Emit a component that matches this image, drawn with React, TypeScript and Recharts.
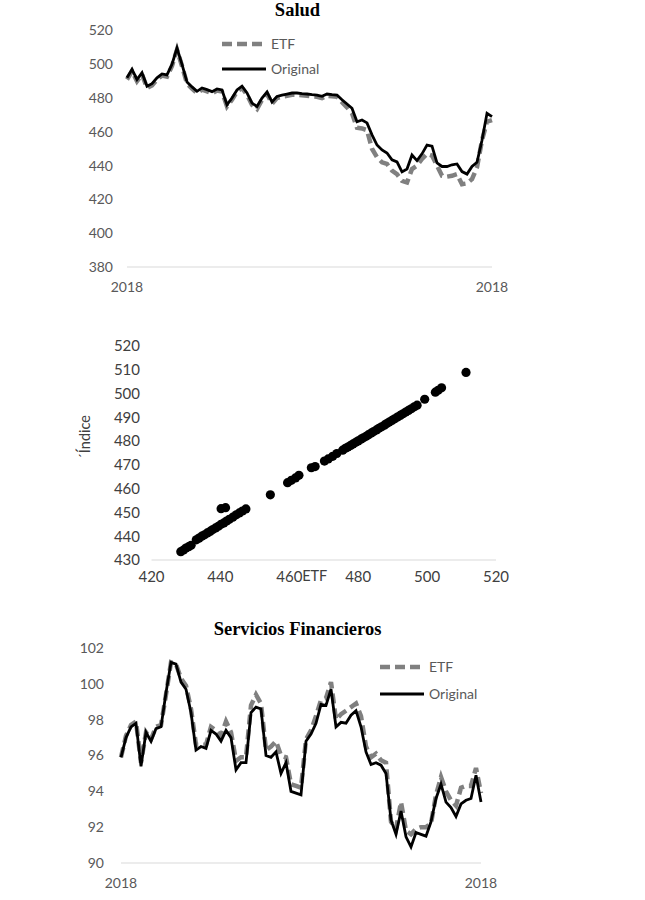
import React from "react";
import { LineChart, Line, XAxis, YAxis, ScatterChart, Scatter, Legend } from "recharts";

const yearLabel = "2018";
const seriesNames = ["ETF", "Original"];

const saludOriginal = [
  492, 497, 491, 495, 487, 488.5, 492, 494.3, 493.7, 500, 509.6, 500, 489.5, 486.6, 484, 486, 485, 483.8, 485.4, 484.8,
  476, 480, 484.8, 487, 483, 477, 475, 480, 483.6, 477.7, 481, 481.8, 482.4, 483, 483, 482.6, 482.4, 482, 481.8, 481,
  482.4, 482, 481.8, 479, 476.5, 474, 466, 467, 465.3, 458.2, 452.2, 449.3, 447.5, 443.4, 442.2, 436.3, 438, 446.3, 443, 447,
  452.2, 451.5, 441.6, 439.5, 439.5, 440.5, 441, 436.5, 435, 439.5, 442, 455, 471, 469,
];
const saludEtf = [
  491, 496, 490, 494, 486, 487.5, 491, 493.3, 492.7, 499, 508.6, 499, 488.5, 485.6, 483, 485, 484, 482.8, 484.4, 483.8,
  475, 479, 483.8, 486, 482, 476, 473.5, 479, 482.6, 476.7, 480, 480.8, 481.4, 482, 482, 481.6, 481.4, 481, 480.8, 480,
  481.4, 481, 480.8, 477.5, 474.5, 471, 462.5, 462, 461, 450, 445, 442, 441, 437, 435, 431, 430, 438, 440, 444,
  447, 446, 440, 434, 433.5, 434, 435, 429, 429.5, 432, 439, 455, 466, 467,
];
const saludTicks = [380, 400, 420, 440, 460, 480, 500, 520];

const scatterEtf = [
  428.5, 429.3, 430, 430.8, 431.5, 433, 433.8, 434.6, 435.4, 436.2, 437, 437.8, 438.6, 439.4, 440.2, 441, 441.8, 442.6,
  443.6, 444.6, 445.5, 446.4, 447.4, 440.2, 441.5, 454.5, 459.5, 460.6, 461.8, 462.8, 466.4, 467.5, 470.2, 471.3, 472.6,
  473.8, 475.5, 476.3, 477, 477.8, 478.5, 479.3, 480, 480.8, 481.5, 482.3, 483, 483.8, 484.5, 485.3, 486, 486.8, 487.6,
  488.3, 489, 489.8, 490.6, 491.4, 492.2, 493, 493.8, 494.6, 495.4, 496.3, 497.1, 499.3, 502.4, 503.2, 504.2, 511.3,
];
const scatterIndice = [
  433.5, 434.2, 435, 435.6, 436.2, 438.5, 439.2, 440, 440.6, 441.4, 442, 442.8, 443.5, 444.2, 445, 445.6, 446.4, 447.1,
  448, 449, 449.8, 450.6, 451.5, 451.6, 452, 457.4, 462.5, 463.5, 464.5, 465.6, 468.8, 469.3, 471.6, 472.5, 473.6,
  474.8, 476.2, 477, 477.5, 478.2, 478.8, 479.5, 480.1, 480.8, 481.4, 482, 482.7, 483.4, 484, 484.7, 485.4, 486, 486.7,
  487.4, 488, 488.7, 489.4, 490.1, 490.8, 491.5, 492.2, 492.9, 493.6, 494.4, 495.1, 497.6, 500.6, 501.4, 502.4, 508.9,
];
const scatterXTicks = [420, 440, 460, 480, 500, 520];
const scatterYTicks = [430, 440, 450, 460, 470, 480, 490, 500, 510, 520];

const finOriginal = [
  95.9, 97.0, 97.6, 97.8, 95.4, 97.3, 96.8, 97.5, 97.6, 99.5, 101.2, 101.1, 100.1, 99.7, 98.4, 96.3, 96.5, 96.4, 97.4, 97.2,
  96.8, 97.4, 97.0, 95.2, 95.6, 95.6, 98.4, 98.7, 98.6, 96.0, 95.9, 96.2, 95.0, 95.6, 94.0, 93.9, 93.8, 96.8, 97.2, 97.8,
  98.85, 98.8, 99.7, 97.6, 97.85, 97.8, 98.25, 98.5, 97.6, 96.2, 95.5, 95.6, 95.46, 95.0, 92.4, 91.6, 92.9, 91.46, 90.9, 91.7,
  91.6, 91.5, 92.3, 93.6, 94.4, 93.4, 93.1, 92.6, 93.3, 93.5, 93.6, 94.9, 93.4,
];
const finEtf = [
  95.9, 97.1, 97.7, 97.9, 95.6, 97.3, 96.9, 97.6, 97.7, 99.4, 101.2, 101.1, 100.3, 99.9, 98.6, 96.6, 96.6, 96.6, 97.6, 97.4,
  97.1, 97.9, 97.3, 95.7, 95.9, 95.9, 98.8, 99.4, 98.9, 96.3, 96.5, 96.8, 96.0, 95.9, 94.4, 94.3, 94.2, 96.9, 97.4, 98.2,
  99.1, 99.2, 100.1, 98.0, 98.3, 98.5, 98.7, 98.9, 98.2, 96.5, 95.9, 96.1, 95.74, 95.6, 92.3, 91.9, 93.4, 91.8, 91.6, 91.9,
  92.0, 92.0, 92.2, 93.8, 94.8, 94.0, 93.5, 93.2, 94.2, 94.3, 94.3, 95.3, 93.9,
];
const finTicks = [90, 92, 94, 96, 98, 100, 102];

const FONT = "Lato, 'Noto Sans', sans-serif";
const GRID = "#d9d9d9";
const ETF_COLOR = "#808080";
const ORIG_COLOR = "#000000";

const saludData = saludOriginal.map((v, i) => ({ i, original: v, etf: saludEtf[i] }));
const finData = finOriginal.map((v, i) => ({ i, original: v, etf: finEtf[i] }));
const scatterData = scatterEtf.map((x, i) => ({ x, y: scatterIndice[i] }));

const renderLegend = (gap: number) => (props: any) => {
  const payload = (props.payload || []) as any[];
  return (
    <svg width={120} height={gap + 26} style={{ overflow: "visible" }}>
      {payload.map((p, k) => {
        const y = 12 + k * gap;
        const dashed = p.dataKey === "etf";
        return (
          <g key={k}>
            <line
              x1={2}
              x2={dashed ? 44 : 46}
              y1={y}
              y2={y}
              stroke={p.color}
              strokeWidth={dashed ? 4.5 : 3}
              strokeDasharray={dashed ? "10 5" : undefined}
            />
            <text x={51} y={y} dy="0.35em" fontFamily={FONT} fontSize={14} fill="#595959">
              {p.value}
            </text>
          </g>
        );
      })}
    </svg>
  );
};

const Title = ({ text, top }: { text: string; top: number }) => (
  <div
    style={{
      position: "absolute",
      left: 297.5,
      top,
      transform: "translateX(-50%)",
      fontFamily: "'Liberation Serif', 'Times New Roman', serif",
      fontWeight: "bold",
      fontSize: 18.5,
      lineHeight: "18.5px",
      whiteSpace: "nowrap",
      color: "#000",
    }}
  >
    {text}
  </div>
);

export default function App() {
  const n1 = saludData.length - 1;
  const n2 = finData.length - 1;
  return (
    <div style={{ position: "absolute", left: 0, top: 0, width: 645, height: 900, background: "#fff" }}>
      <Title text="Salud" top={1.2} />
      <div style={{ position: "absolute", left: 0, top: 0 }}>
        <LineChart width={645} height={300} data={saludData} margin={{ top: 30.5, right: 153, bottom: 3, left: 67 }}>
          <XAxis
            type="number"
            dataKey="i"
            domain={[0, n1]}
            ticks={[0, n1]}
            tickFormatter={() => yearLabel}
            axisLine={{ stroke: GRID }}
            tickLine={false}
            tick={{ fill: "#595959", fontSize: 14, fontFamily: FONT }}
            tickMargin={9}
            height={30}
            interval={0}
          />
          <YAxis
            domain={[380, 520]}
            ticks={saludTicks}
            axisLine={false}
            tickLine={false}
            tick={{ fill: "#595959", fontSize: 14, fontFamily: FONT }}
            tickMargin={8}
            width={60}
            interval={0}
          />
          <Line type="linear" dataKey="etf" name={seriesNames[0]} stroke={ETF_COLOR} strokeWidth={4.5} strokeDasharray="10 5" dot={false} isAnimationActive={false} />
          <Line type="linear" dataKey="original" name={seriesNames[1]} stroke={ORIG_COLOR} strokeWidth={2.8} dot={false} isAnimationActive={false} />
          <Legend
            layout="vertical"
            align="center"
            verticalAlign="middle"
            content={renderLegend(25)}
            wrapperStyle={{ left: 220, top: 32, width: 120 }}
          />
        </LineChart>
      </div>

      <div style={{ position: "absolute", left: 0, top: 310 }}>
        <ScatterChart width={645} height={290} margin={{ top: 36, right: 149, bottom: 10, left: 91.5 }}>
          <XAxis
            type="number"
            dataKey="x"
            domain={[420, 520]}
            ticks={scatterXTicks}
            axisLine={{ stroke: GRID }}
            tickLine={false}
            tick={{ fill: "#404040", fontSize: 15, fontFamily: FONT }}
            tickMargin={5}
            height={30}
            interval={0}
            label={{
              content: (p: any) => {
                const vb = p.viewBox;
                return (
                  <text x={vb.x + vb.width / 2 - 9} y={vb.y + 11} dy="0.71em" textAnchor="middle" fontFamily={FONT} fontSize={14.5} fill="#404040">
                    ETF
                  </text>
                );
              },
            }}
          />
          <YAxis
            type="number"
            dataKey="y"
            domain={[430, 520]}
            ticks={scatterYTicks}
            axisLine={false}
            tickLine={false}
            tick={{ fill: "#404040", fontSize: 15, fontFamily: FONT }}
            tickMargin={5.5}
            width={60}
            interval={0}
            label={{
              content: (p: any) => {
                const vb = p.viewBox;
                const cx = vb.x - 6.5;
                const cy = vb.y + vb.height / 2 - 16;
                return (
                  <text x={cx} y={cy} dy="0.35em" textAnchor="middle" transform={`rotate(-90 ${cx} ${cy})`} fontFamily={FONT} fontSize={14.5} fill="#404040">
                    ´Índice
                  </text>
                );
              },
            }}
          />
          <Scatter
            data={scatterData}
            fill="#000"
            isAnimationActive={false}
            shape={(p: any) => <circle cx={p.cx} cy={p.cy} r={4.6} fill="#000" />}
          />
        </ScatterChart>
      </div>

      <Title text="Servicios Financieros" top={619.5} />
      <div style={{ position: "absolute", left: 0, top: 610 }}>
        <LineChart width={645} height={290} data={finData} margin={{ top: 38, right: 164, bottom: 7, left: 61 }}>
          <XAxis
            type="number"
            dataKey="i"
            domain={[0, n2]}
            ticks={[0, n2]}
            tickFormatter={() => yearLabel}
            axisLine={{ stroke: GRID }}
            tickLine={false}
            tick={{ fill: "#595959", fontSize: 14, fontFamily: FONT }}
            tickMargin={9}
            height={30}
            interval={0}
          />
          <YAxis
            domain={[90, 102]}
            ticks={finTicks}
            axisLine={false}
            tickLine={false}
            tick={{ fill: "#595959", fontSize: 14, fontFamily: FONT }}
            tickMargin={11}
            width={60}
            interval={0}
          />
          <Line type="linear" dataKey="etf" name={seriesNames[0]} stroke={ETF_COLOR} strokeWidth={4.5} strokeDasharray="10 5" dot={false} isAnimationActive={false} />
          <Line type="linear" dataKey="original" name={seriesNames[1]} stroke={ORIG_COLOR} strokeWidth={2.8} dot={false} isAnimationActive={false} />
          <Legend
            layout="vertical"
            align="center"
            verticalAlign="middle"
            content={renderLegend(27)}
            wrapperStyle={{ left: 378, top: 45, width: 120 }}
          />
        </LineChart>
      </div>
    </div>
  );
}
